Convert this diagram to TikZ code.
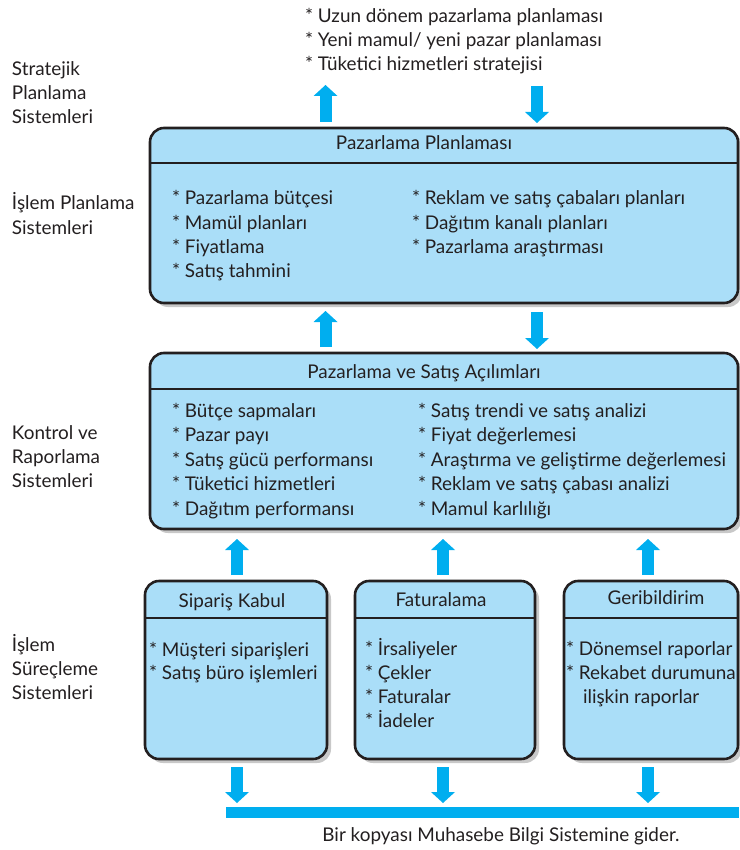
\documentclass[tikz,border=0pt]{standalone}
\usepackage{fontspec}
\setmainfont{Lato}
\usetikzlibrary{arrows.meta,shadows}
\definecolor{boxfill}{RGB}{170,222,248}
\definecolor{flowblue}{RGB}{0,174,239}
\definecolor{ink}{RGB}{35,31,32}
\definecolor{shade}{RGB}{200,200,200}
\begin{document}
\begin{tikzpicture}[x=1pt,y=-1pt,
  every node/.style={font=\fontsize{18.9}{24.5}\selectfont, text=ink, inner sep=0pt, outer sep=0pt},
  label/.style={anchor=base west},
  item/.style={anchor=base west},
  head/.style={anchor=base},
  panel/.style={draw=ink, line width=2.6pt, fill=boxfill, rounded corners=14pt,
    drop shadow={shadow xshift=4pt, shadow yshift=-4pt, fill=shade, opacity=1},
    anchor=north west},
  rule/.style={draw=ink, line width=2.6pt},
  flow/.style={draw=flowblue, line width=12pt,
    -{Triangle[width=24pt,length=11pt,line width=0pt]}},
  bus/.style={fill=flowblue, anchor=west, minimum height=11pt}]
\useasboundingbox (0,0) rectangle (739,850);

% ---- panels ----
\node[panel, minimum width=588pt, minimum height=175pt] (pp) at (150,128) {};
\draw[rule] ([yshift=-35pt]pp.north west) -- ([yshift=-35pt]pp.north east);
\node[panel, minimum width=588pt, minimum height=176pt] (pa) at (150,353) {};
\draw[rule] ([yshift=-36pt]pa.north west) -- ([yshift=-36pt]pa.north east);
\node[panel, minimum width=182pt, minimum height=178pt] (sk) at (145,581) {};
\draw[rule] ([yshift=-37pt]sk.north west) -- ([yshift=-37pt]sk.north east);
\node[panel, minimum width=180pt, minimum height=178pt] (fa) at (355,581) {};
\draw[rule] ([yshift=-37pt]fa.north west) -- ([yshift=-37pt]fa.north east);
\node[panel, minimum width=174pt, minimum height=178pt] (gb) at (564,581) {};
\draw[rule] ([yshift=-37pt]gb.north west) -- ([yshift=-37pt]gb.north east);

% ---- level labels on the left ----
\node[label] (s1) at (12,76) {Stratejik};
\node[label] (s2) at (12,100) {Planlama};
\node[label] (s3) at (12,124) {Sistemleri};
\node[label] (i1) at (12,210) {İşlem Planlama};
\node[label] (i2) at (12,234) {Sistemleri};
\node[label] (k1) at (12,439) {Kontrol ve};
\node[label] (k2) at (12,463) {Raporlama};
\node[label] (k3) at (12,487) {Sistemleri};
\node[label] (p1) at (12,651) {İşlem};
\node[label] (p2) at (12,675) {Süreçleme};
\node[label] (p3) at (12,699) {Sistemleri};

% ---- strategic items ----
\node[item] (t1) at (305,23) {* Uzun dönem pazarlama planlaması};
\node[item] (t2) at (305,47) {* Yeni mamul/ yeni pazar planlaması};
\node[item] (t3) at (305,71) {* Tüketici hizmetleri stratejisi};

% ---- titles ----
\node[head] (ppt) at (424,150) {Pazarlama Planlaması};
\node[head] (pat) at (424,378) {Pazarlama ve Satış Açılımları};
\node[head] (skt) at (232,607) {Sipariş Kabul};
\node[head] (fat) at (441,606) {Faturalama};
\node[head] (gbt) at (656,604) {Geribildirim};

% ---- panel contents ----
\foreach \txt [count=\i] in {* Pazarlama bütçesi, * Mamül planları, * Fiyatlama, * Satış tahmini}
  \node[item] (ppl\i) at (172,{205+24.3*(\i-1)}) {\txt};
\foreach \txt [count=\i] in {* Reklam ve satış çabaları planları, * Dağıtım kanalı planları, * Pazarlama araştırması}
  \node[item] (ppr\i) at (412,{205+24.3*(\i-1)}) {\txt};
\foreach \txt [count=\i] in {* Bütçe sapmaları, * Pazar payı, * Satış gücü performansı, * Tüketici hizmetleri, * Dağıtım performansı}
  \node[item] (pal\i) at (172,{417+24.5*(\i-1)}) {\txt};
\foreach \txt [count=\i] in {* Satış trendi ve satış analizi, * Fiyat değerlemesi, * Araştırma ve geliştirme değerlemesi, * Reklam ve satış çabası analizi, * Mamul karlılığı}
  \node[item] (par\i) at (418,{417+24.5*(\i-1)}) {\txt};
\foreach \txt [count=\i] in {* Müşteri siparişleri, * Satış büro işlemleri}
  \node[item] (skl\i) at (149,{656+23.5*(\i-1)}) {\txt};
\foreach \txt [count=\i] in {* İrsaliyeler, * Çekler, * Faturalar, * İadeler}
  \node[item] (fal\i) at (365,{655+24.3*(\i-1)}) {\txt};
\node[item] (gbl1) at (566,655) {* Dönemsel raporlar};
\node[item] (gbl2) at (566,679) {* Rekabet durumuna};
\node[item] (gbl3) at (583,703) {ilişkin raporlar};

% ---- accounting bus ----
\node[bus, minimum width=513pt] (bus) at (226,812.5) {};
\node[head] (busl) at (501,841) {Bir kopyası Muhasebe Bilgi Sistemine gider.};

% ---- arrow end points ----
\coordinate (a1s) at (325.5,122); \coordinate (a1e) at (325.5,85);
\coordinate (a2s) at (537,86);    \coordinate (a2e) at (537,123);
\coordinate (a3s) at (325.5,347); \coordinate (a3e) at (325.5,311);
\coordinate (a4s) at (537,312);   \coordinate (a4e) at (537,349);
\coordinate (b1s) at (237,575);   \coordinate (b1e) at (237,539);
\coordinate (b2s) at (443,575);   \coordinate (b2e) at (443,539);
\coordinate (b3s) at (648,575);   \coordinate (b3e) at (648,539);
\coordinate (c1s) at (237,767);   \coordinate (c1e) at (237,803);
\coordinate (c2s) at (443,767);   \coordinate (c2e) at (443,803);
\coordinate (c3s) at (648,767);   \coordinate (c3e) at (648,803);

% ---- flows ----
\draw[flow] (a1s) -- (a1e);
\draw[flow] (a2s) -- (a2e);
\draw[flow] (a3s) -- (a3e);
\draw[flow] (a4s) -- (a4e);
\draw[flow] (b1s) -- (b1e);
\draw[flow] (b2s) -- (b2e);
\draw[flow] (b3s) -- (b3e);
\draw[flow] (c1s) -- (c1e);
\draw[flow] (c2s) -- (c2e);
\draw[flow] (c3s) -- (c3e);
\end{tikzpicture}
\end{document}
